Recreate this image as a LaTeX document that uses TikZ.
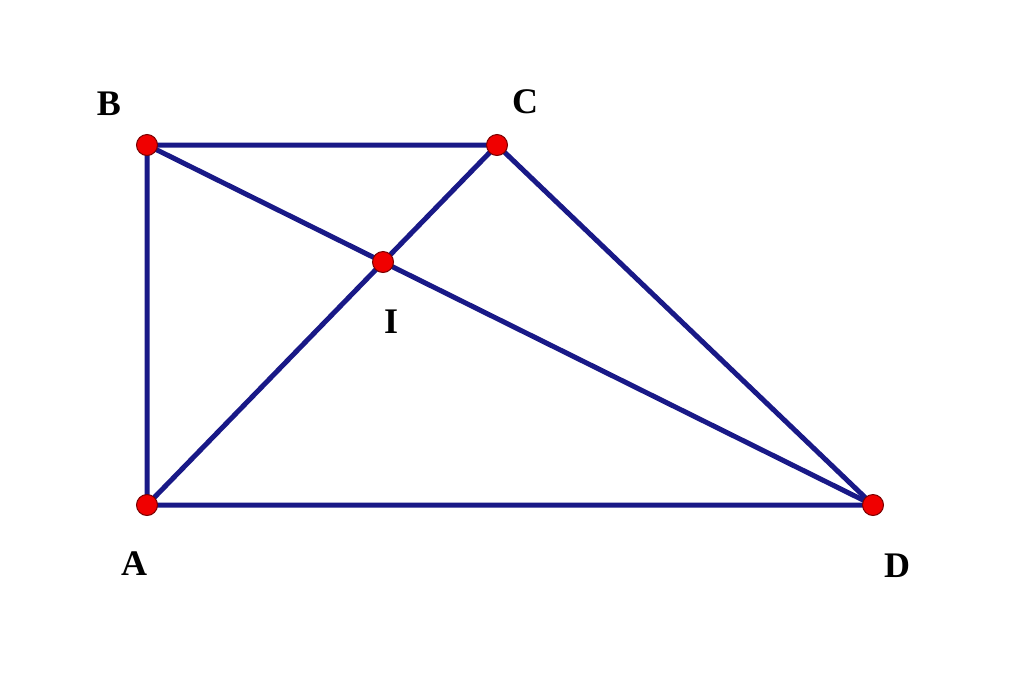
\documentclass[tikz,border=0pt]{standalone}
\usepackage{fontspec}
\setmainfont{Liberation Serif}
\definecolor{navy}{RGB}{25,25,135}
\definecolor{dotred}{RGB}{240,0,0}
\definecolor{dotedge}{RGB}{120,0,0}
\begin{document}
\begin{tikzpicture}[x=1pt,y=-1pt,
  seg/.style={draw=navy,line width=5pt,line cap=round,line join=round},
  pt/.style={circle,fill=dotred,draw=dotedge,line width=1pt,minimum size=21pt,inner sep=0pt},
  lbl/.style={font=\fontsize{36}{40}\selectfont\bfseries,inner sep=0pt}]
\useasboundingbox (0,0) rectangle (1024,678);
\coordinate (A) at (147,505);
\coordinate (B) at (147,145);
\coordinate (C) at (497,145);
\coordinate (D) at (873,505);
\coordinate (I) at (383,262);
\draw[seg] (A) -- (B) -- (C) -- (D) -- cycle;
\draw[seg] (A) -- (C);
\draw[seg] (B) -- (D);
\node[pt] (pA) at (A) {};
\node[pt] (pB) at (B) {};
\node[pt] (pC) at (C) {};
\node[pt] (pD) at (D) {};
\node[pt] (pI) at (I) {};
\node[lbl] (lB) at (109,104) {B};
\node[lbl] (lC) at (525,102) {C};
\node[lbl] (lI) at (391,322) {I};
\node[lbl] (lA) at (134,564) {A};
\node[lbl] (lD) at (897,566) {D};
\end{tikzpicture}
\end{document}
